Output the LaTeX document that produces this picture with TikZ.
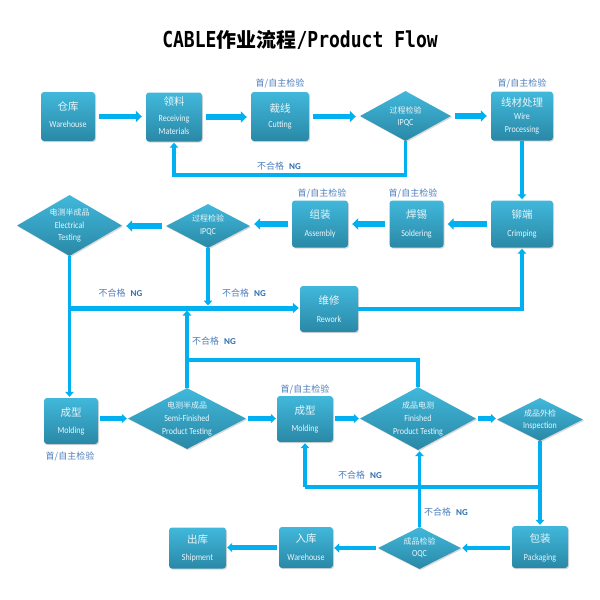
\documentclass[tikz,border=0pt]{standalone}
\usepackage{fontspec}
\setmainfont{Carlito}
\newfontfamily\cjk{Noto Sans CJK SC}
\newfontfamily\enf[FakeStretch=0.86]{Carlito}
\newfontfamily\titlemono[FakeStretch=0.82]{DejaVu Sans Mono}
\usetikzlibrary{shapes.geometric,arrows.meta,shadows}
\definecolor{arr}{HTML}{00B0F0}
\definecolor{boxtop}{HTML}{41B8DB}
\definecolor{boxbot}{HTML}{2A88A6}
\definecolor{lblue}{HTML}{4F7FBE}
\definecolor{ngblue}{HTML}{2E6FB0}
\definecolor{wtext}{HTML}{EAF6FA}
\tikzset{
  boxshape/.style={rectangle, rounded corners=3pt, top color=boxtop, bottom color=boxbot, draw=none, inner sep=0pt,
    drop shadow={opacity=0.3, shadow xshift=1pt, shadow yshift=-1.2pt}},
  diashape/.style={diamond, top color=boxtop, bottom color=boxbot, draw=none, inner sep=0pt,
    drop shadow={opacity=0.3, shadow xshift=1pt, shadow yshift=-1.2pt}},
  cnb/.style={font=\cjk\fontsize{10.5}{12}\selectfont, text=wtext, inner sep=0pt},
  cnd/.style={font=\cjk\fontsize{8}{10}\selectfont, text=wtext, inner sep=0pt},
  entx/.style={font=\enf\fontsize{9.3}{10}\selectfont, text=wtext, inner sep=0pt, text height=6.2pt, text depth=0.6pt},
  chk/.style={font=\cjk\fontsize{9}{10}\selectfont, text=lblue, inner sep=0pt},
  nglbl/.style={font=\fontsize{9}{10}\selectfont, text=lblue, inner sep=0pt},
  flowbig/.style={draw=arr, line width=5.5pt, -{Triangle[length=6pt,width=11pt]}, shorten <=4pt, shorten >=4pt},
  flowsm/.style={draw=arr, line width=4.5pt, -{Triangle[length=5pt,width=9pt]}, shorten <=2pt, shorten >=1pt},
  link/.style={draw=arr, line width=3.5pt},
  linka/.style={link, -{Triangle[length=5pt,width=8.5pt]}, shorten >=1pt},
  feed/.style={draw=arr, line width=5pt, -{Triangle[length=6pt,width=10pt]}, shorten >=1pt},
}
\newcommand{\ngtext}{{\cjk 不合格}\hspace{5pt}{\bfseries\color{ngblue}NG}}
\begin{document}
\begin{tikzpicture}[x=1pt,y=-1pt]
\useasboundingbox[fill=white] (0,0) rectangle (600,600);

% title
\node[anchor=base, inner sep=0pt] (title) at (300,47) {\titlemono\bfseries\fontsize{22}{24}\selectfont CABLE{\cjk\fontsize{20}{24}\selectfont 作业流程}/Product Flow};

% ---- row 1
\node[boxshape, minimum width=54pt, minimum height=49pt] (wha) at (68,116.5) {};
\node[cnb] (what) at (68,107) {仓库};
\node[entx] (whae) at (68,125) {Warehouse};

\node[boxshape, minimum width=56pt, minimum height=49pt] (recv) at (174,117) {};
\node[cnb] (recvt) at (174,102) {领料};
\node[entx] (recve) at (174,119) {Receiving};
\node[entx] (recvf) at (174,132) {Materials};

\node[boxshape, minimum width=58pt, minimum height=49pt] (cut) at (280,116.5) {};
\node[cnb] (cutt) at (280,108) {裁线};
\node[entx] (cute) at (280,125) {Cutting};
\node[chk] (cutl) at (280,83) {首/自主检验};

\node[diashape, minimum width=91pt, minimum height=50pt] (ipqa) at (405.5,116) {};
\node[cnd] (ipqat) at (405.5,110) {过程检验};
\node[entx] (ipqae) at (405.5,123) {IPQC};

\node[boxshape, minimum width=62pt, minimum height=49pt] (wire) at (522,116) {};
\node[cnb] (wiret) at (522,103) {线材处理};
\node[entx] (wiree) at (522,117) {Wire};
\node[entx] (wiref) at (522,130) {Processing};
\node[chk] (wirel) at (522,83) {首/自主检验};

% ---- row 2
\node[boxshape, minimum width=62pt, minimum height=47pt] (crimp) at (522,224) {};
\node[cnb] (crimpt) at (522,215) {铆端};
\node[entx] (crimpe) at (522,234) {Crimping};

\node[boxshape, minimum width=54pt, minimum height=47pt] (sold) at (416.5,224) {};
\node[cnb] (soldt) at (416.5,215) {焊锡};
\node[entx] (solde) at (416.5,234) {Soldering};
\node[chk] (soldl) at (413,193) {首/自主检验};

\node[boxshape, minimum width=56pt, minimum height=47pt] (assy) at (320,224) {};
\node[cnb] (assyt) at (320,215) {组装};
\node[entx] (assye) at (320,234) {Assembly};
\node[chk] (assyl) at (322,193) {首/自主检验};

\node[diashape, minimum width=84pt, minimum height=44pt] (ipqb) at (208,226) {};
\node[cnd] (ipqbt) at (208,218) {过程检验};
\node[entx] (ipqbe) at (208,232) {IPQC};

\node[diashape, minimum width=105pt, minimum height=61pt] (elec) at (69.5,225.5) {};
\node[cnd] (elect) at (69.5,212) {电测半成品};
\node[entx] (elece) at (69.5,226) {Electrical};
\node[entx] (elecf) at (69.5,238) {Testing};

% ---- rework
\node[boxshape, minimum width=58pt, minimum height=46pt] (rework) at (329,309) {};
\node[cnb] (reworkt) at (329,301) {维修};
\node[entx] (reworke) at (329,320) {Rework};

% ---- row 3
\node[boxshape, minimum width=54pt, minimum height=46pt] (molda) at (71,421) {};
\node[cnb] (moldat) at (71,413) {成型};
\node[entx] (moldae) at (71,431) {Molding};
\node[chk] (moldal) at (70,456) {首/自主检验};

\node[diashape, minimum width=118pt, minimum height=61pt] (semi) at (187,418.5) {};
\node[cnd] (semit) at (187,405) {电测半成品};
\node[entx] (semie) at (187,419) {Semi-Finished};
\node[entx] (semif) at (187,432) {Product Testing};

\node[boxshape, minimum width=56pt, minimum height=46pt] (moldb) at (305,419) {};
\node[cnb] (moldbt) at (305,411) {成型};
\node[entx] (moldbe) at (305,429) {Molding};
\node[chk] (moldbl) at (305,389) {首/自主检验};

\node[diashape, minimum width=116pt, minimum height=63pt] (fin) at (418,418.5) {};
\node[cnd] (fint) at (418,405) {成品电测};
\node[entx] (fine) at (418,419) {Finished};
\node[entx] (finf) at (418,432) {Product Testing};

\node[diashape, minimum width=86pt, minimum height=43pt] (insp) at (540,419.5) {};
\node[cnd] (inspt) at (540,413) {成品外检};
\node[entx] (inspe) at (540,426) {Inspection};

% ---- row 4
\node[boxshape, minimum width=56pt, minimum height=42pt] (pack) at (540,547) {};
\node[cnb] (packt) at (540,539) {包装};
\node[entx] (packe) at (540,558) {Packaging};

\node[diashape, minimum width=83pt, minimum height=42pt] (oqc) at (419.5,548) {};
\node[cnd] (oqct) at (419.5,541) {成品检验};
\node[entx] (oqce) at (419.5,554) {OQC};

\node[boxshape, minimum width=54pt, minimum height=41pt] (whb) at (306,547.5) {};
\node[cnb] (whbt) at (306,539) {入库};
\node[entx] (whbe) at (306,558) {Warehouse};

\node[boxshape, minimum width=57pt, minimum height=41pt] (ship) at (197.5,548) {};
\node[cnb] (shipt) at (197.5,540) {出库};
\node[entx] (shipe) at (197.5,558) {Shipment};

% ---- main flow arrows
\draw[flowbig] (wha.east) -- (wha.east -| recv.west);
\draw[flowbig] (recv.east) -- (recv.east -| cut.west);
\draw[flowbig] (cut.east) -- (cut.east -| ipqa.west);
\draw[flowbig] (ipqa.east) -- (ipqa.east -| wire.west);

\draw[flowbig] (crimp.west) -- (crimp.west -| sold.east);
\draw[flowbig] (sold.west) -- (sold.west -| assy.east);
\draw[flowbig] (assy.west) -- (assy.west -| ipqb.east);
\draw[flowbig] (ipqb.west) -- (ipqb.west -| elec.east);

\draw[flowsm] (molda.east |- semi.west) -- (semi.west);
\draw[flowsm] (semi.east) -- (semi.east -| moldb.west);
\draw[flowsm] (moldb.east |- fin.west) -- (fin.west);
\draw[flowsm] (fin.east) -- (fin.east -| insp.west);

\draw[flowsm] (pack.west |- oqc.east) -- (oqc.east);
\draw[flowsm] (oqc.west) -- (oqc.west -| whb.east);
\draw[flowsm] (whb.west) -- (whb.west -| ship.east);

% ---- connectors
\coordinate (ca) at (174,175);
\draw[linka, shorten >=1pt] (ipqa.south) |- (ca) -- (recv.south);
\draw[linka] (wire.south) -- (wire.south |- crimp.north);

\draw[linka] (elec.south) -- (elec.south |- molda.north);
\coordinate (ja) at (70,308);
\draw[feed] (ja) -- (ja -| rework.west);
\draw[linka, shorten >=2.5pt] (ipqb.south) -- (ipqb.south |- ja);
\coordinate (jb) at (187,360);
\draw[link] (fin.north) |- (jb);
\draw[linka, shorten >=2.5pt] (semi.north) -- (semi.north |- ja);
\draw[linka] (rework.east) -| (crimp.south);

\coordinate (jc) at (305,487);
\draw[link] (jc) -- (jc -| insp.south);
\draw[linka] (jc) -- (moldb.south);
\draw[linka] (oqc.north) -- (oqc.north |- fin.south);
\draw[linka] (insp.south) -- (insp.south |- pack.north);

% ---- NG labels
\node[nglbl] (nga) at (279,166) {\ngtext};
\node[nglbl] (ngb) at (120.5,293) {\ngtext};
\node[nglbl] (ngc) at (244,293) {\ngtext};
\node[nglbl] (ngd) at (214,341) {\ngtext};
\node[nglbl] (nge) at (360,475) {\ngtext};
\node[nglbl] (ngf) at (446,512) {\ngtext};
\end{tikzpicture}
\end{document}
